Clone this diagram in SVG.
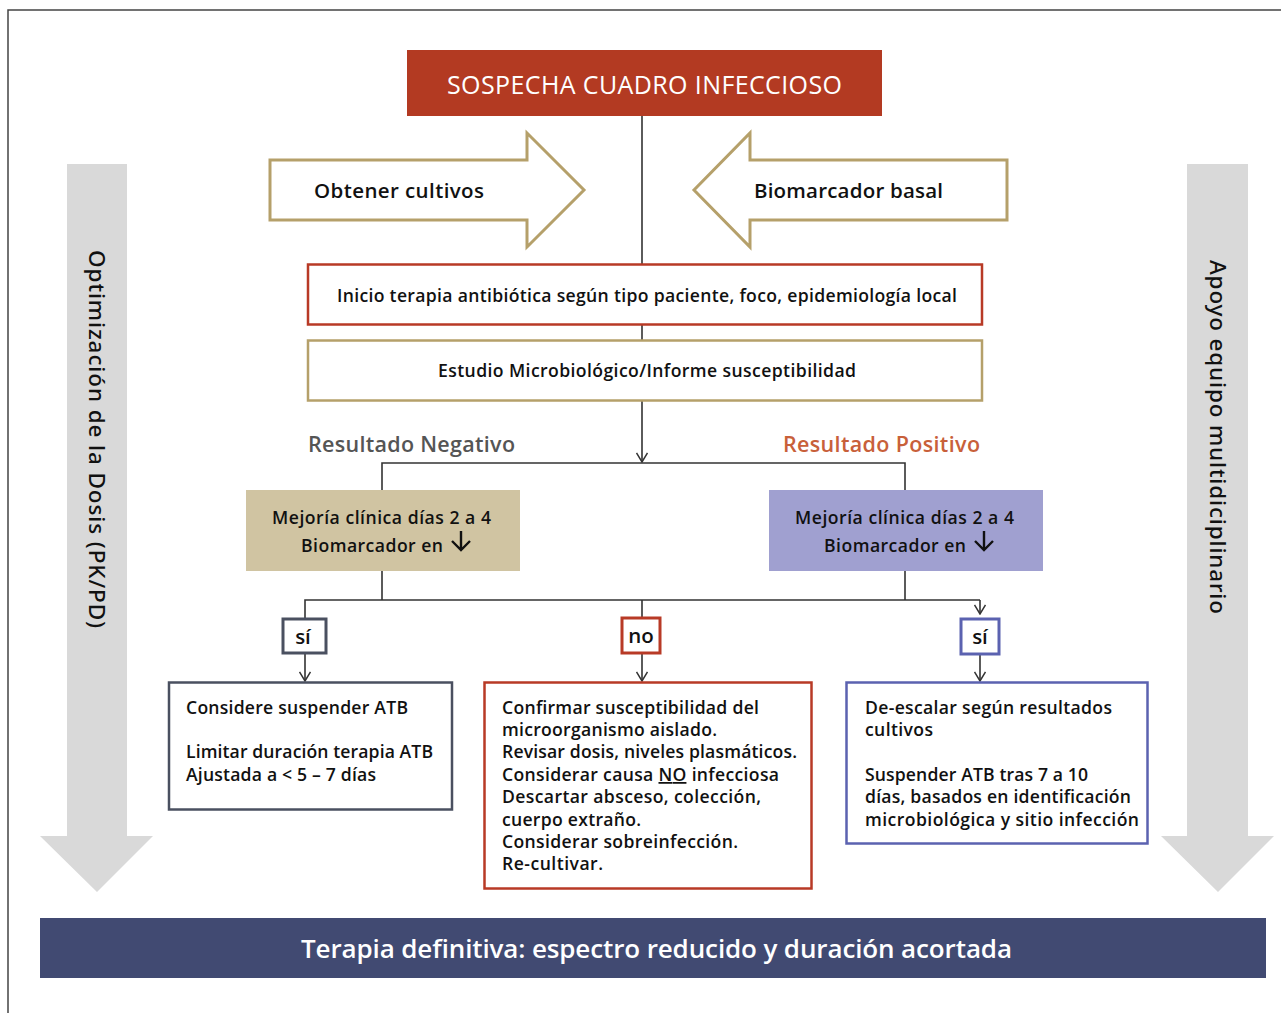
<svg xmlns="http://www.w3.org/2000/svg" width="1281" height="1013" viewBox="0 0 1281 1013">
<defs>
<style>
text{font-family:"Open Sans","Noto Sans","Liberation Sans",sans-serif;font-weight:600;fill:#111}
.t17{font-size:17.6px}
.t20{font-size:20.5px}
.conn{stroke:#333;stroke-width:1.6;fill:none}
.side{fill:#d9d9d9}
.sidetxt{font-family:"Noto Sans","Liberation Sans",sans-serif;font-weight:500;font-size:22.5px;fill:#111}
</style>
<marker id="ah" viewBox="0 0 12 12" refX="11" refY="6" markerWidth="12" markerHeight="12" markerUnits="userSpaceOnUse" orient="auto">
<path d="M2,0.5 L11,6 L2,11.5" fill="none" stroke="#333" stroke-width="1.5"/>
</marker>
</defs>
<rect width="1281" height="1013" fill="#fff"/>
<path d="M8,1013 V10 H1281" fill="none" stroke="#444" stroke-width="1.5"/>

<g id="side-left">
<path class="side" d="M67,164 H127 V836 H153 L97,892 L40,836 H67 Z"/>
<text class="sidetxt" transform="translate(89,439) rotate(90)" text-anchor="middle" textLength="378">Optimización de la Dosis (PK/PD)</text>
</g>
<g id="side-right">
<path class="side" d="M1187,164 H1248 V836 H1274 L1218,892 L1161,836 H1187 Z"/>
<text class="sidetxt" transform="translate(1210,437) rotate(90)" text-anchor="middle" textLength="354">Apoyo equipo multidiciplinario</text>
</g>

<g id="connectors">
<line class="conn" x1="642" y1="116" x2="642" y2="264"/>
<line class="conn" x1="642" y1="325" x2="642" y2="340"/>
<line class="conn" x1="642" y1="401" x2="642" y2="462" marker-end="url(#ah)"/>
<path class="conn" d="M382,490 V463 H905 V490"/>
<path class="conn" d="M382,571 V600 M905,571 V600 M305,618 V600 H980"/>
<line class="conn" x1="980" y1="600" x2="980" y2="614" marker-end="url(#ah)"/>
<line class="conn" x1="642" y1="600" x2="642" y2="618"/>
<line class="conn" x1="305" y1="653" x2="305" y2="681" marker-end="url(#ah)"/>
<line class="conn" x1="642" y1="653" x2="642" y2="681" marker-end="url(#ah)"/>
<line class="conn" x1="980" y1="654" x2="980" y2="681" marker-end="url(#ah)"/>
</g>

<g id="sospecha">
<rect x="407" y="50" width="475" height="66" fill="#b33a22"/>
<text x="447" y="94" textLength="395" style="font-size:25px;fill:#fff;font-weight:500">SOSPECHA CUADRO INFECCIOSO</text>
</g>

<g id="obtener">
<path d="M270,160 H527 V133 L584,190 L527,247 V220 H270 Z" fill="#fff" stroke="#b5a06a" stroke-width="3"/>
<text class="t20" x="314" y="198" textLength="170">Obtener cultivos</text>
</g>
<g id="biomarcador-basal">
<path d="M1007,160 H750 V133 L694,190 L750,247 V220 H1007 Z" fill="#fff" stroke="#b5a06a" stroke-width="3"/>
<text class="t20" x="754" y="198" textLength="189">Biomarcador basal</text>
</g>

<g id="inicio">
<rect x="308" y="264.5" width="674" height="60" fill="#fff" stroke="#b83a26" stroke-width="2.5"/>
<text class="t17" x="337" y="302" textLength="620">Inicio terapia antibiótica según tipo paciente, foco, epidemiología local</text>
</g>
<g id="estudio">
<rect x="308" y="340.5" width="674" height="60" fill="#fff" stroke="#b5a06a" stroke-width="2.5"/>
<text class="t17" x="438" y="377" textLength="418">Estudio Microbiológico/Informe susceptibilidad</text>
</g>

<text x="308" y="452" textLength="207" style="font-size:21.5px;fill:#555">Resultado Negativo</text>
<text x="783" y="452" textLength="197" style="font-size:21.5px;fill:#c8603a">Resultado Positivo</text>

<g id="mejoria-neg">
<rect x="246" y="490" width="274" height="81" fill="#d0c4a2"/>
<text class="t17" x="272" y="524" textLength="219">Mejoría clínica días 2 a 4</text>
<text class="t17" x="301" y="552" textLength="142">Biomarcador en</text>
<path d="M461,531 V550 M452,541 L461,550 L470,541" fill="none" stroke="#111" stroke-width="2.4"/>
</g>
<g id="mejoria-pos">
<rect x="769" y="490" width="274" height="81" fill="#a0a0d0"/>
<text class="t17" x="795" y="524" textLength="219">Mejoría clínica días 2 a 4</text>
<text class="t17" x="824" y="552" textLength="142">Biomarcador en</text>
<path d="M984,531 V550 M975,541 L984,550 L993,541" fill="none" stroke="#111" stroke-width="2.4"/>
</g>

<g id="si-left">
<rect x="283" y="619" width="43" height="34" fill="#fff" stroke="#4a5060" stroke-width="3"/>
<text class="t20" x="303" y="644" text-anchor="middle">sí</text>
</g>
<g id="no">
<rect x="622" y="618" width="38" height="35" fill="#fff" stroke="#b83a26" stroke-width="3"/>
<text class="t20" x="641" y="643" text-anchor="middle">no</text>
</g>
<g id="si-right">
<rect x="961" y="619" width="38" height="35" fill="#fff" stroke="#5b62b0" stroke-width="3"/>
<text class="t20" x="980" y="644" text-anchor="middle">sí</text>
</g>

<g id="neg-box">
<rect x="169" y="682.5" width="283" height="127" fill="#fff" stroke="#4a5060" stroke-width="2.5"/>
<text class="t17" x="186" y="714" textLength="222">Considere suspender ATB</text>
<text class="t17" x="186" y="758" textLength="247">Limitar duración terapia ATB</text>
<text class="t17" x="186" y="781" textLength="190">Ajustada a &lt; 5 – 7 días</text>
</g>
<g id="no-box">
<rect x="484.5" y="682.5" width="327" height="206" fill="#fff" stroke="#b83a26" stroke-width="2.5"/>
<text class="t17" x="502" y="714" textLength="257">Confirmar susceptibilidad del</text>
<text class="t17" x="502" y="736" textLength="215">microorganismo aislado.</text>
<text class="t17" x="502" y="758" textLength="295">Revisar dosis, niveles plasmáticos.</text>
<text class="t17" x="502" y="781" textLength="277">Considerar causa <tspan text-decoration="underline">NO</tspan> infecciosa</text>
<text class="t17" x="502" y="803" textLength="259">Descartar absceso, colección,</text>
<text class="t17" x="502" y="826" textLength="139">cuerpo extraño.</text>
<text class="t17" x="502" y="848" textLength="236">Considerar sobreinfección.</text>
<text class="t17" x="502" y="870" textLength="101">Re-cultivar.</text>
</g>
<g id="pos-box">
<rect x="846.5" y="682.5" width="301" height="161" fill="#fff" stroke="#5b62b0" stroke-width="2.5"/>
<text class="t17" x="865" y="714" textLength="247">De-escalar según resultados</text>
<text class="t17" x="865" y="736" textLength="68">cultivos</text>
<text class="t17" x="865" y="781" textLength="223">Suspender ATB tras 7 a 10</text>
<text class="t17" x="865" y="803" textLength="266">días, basados en identificación</text>
<text class="t17" x="865" y="826" textLength="274">microbiológica y sitio infección</text>
</g>

<g id="definitiva">
<rect x="40" y="918" width="1226" height="60" fill="#414a72"/>
<text x="301" y="958" textLength="711" style="font-size:26px;fill:#fff">Terapia definitiva: espectro reducido y duración acortada</text>
</g>
</svg>
